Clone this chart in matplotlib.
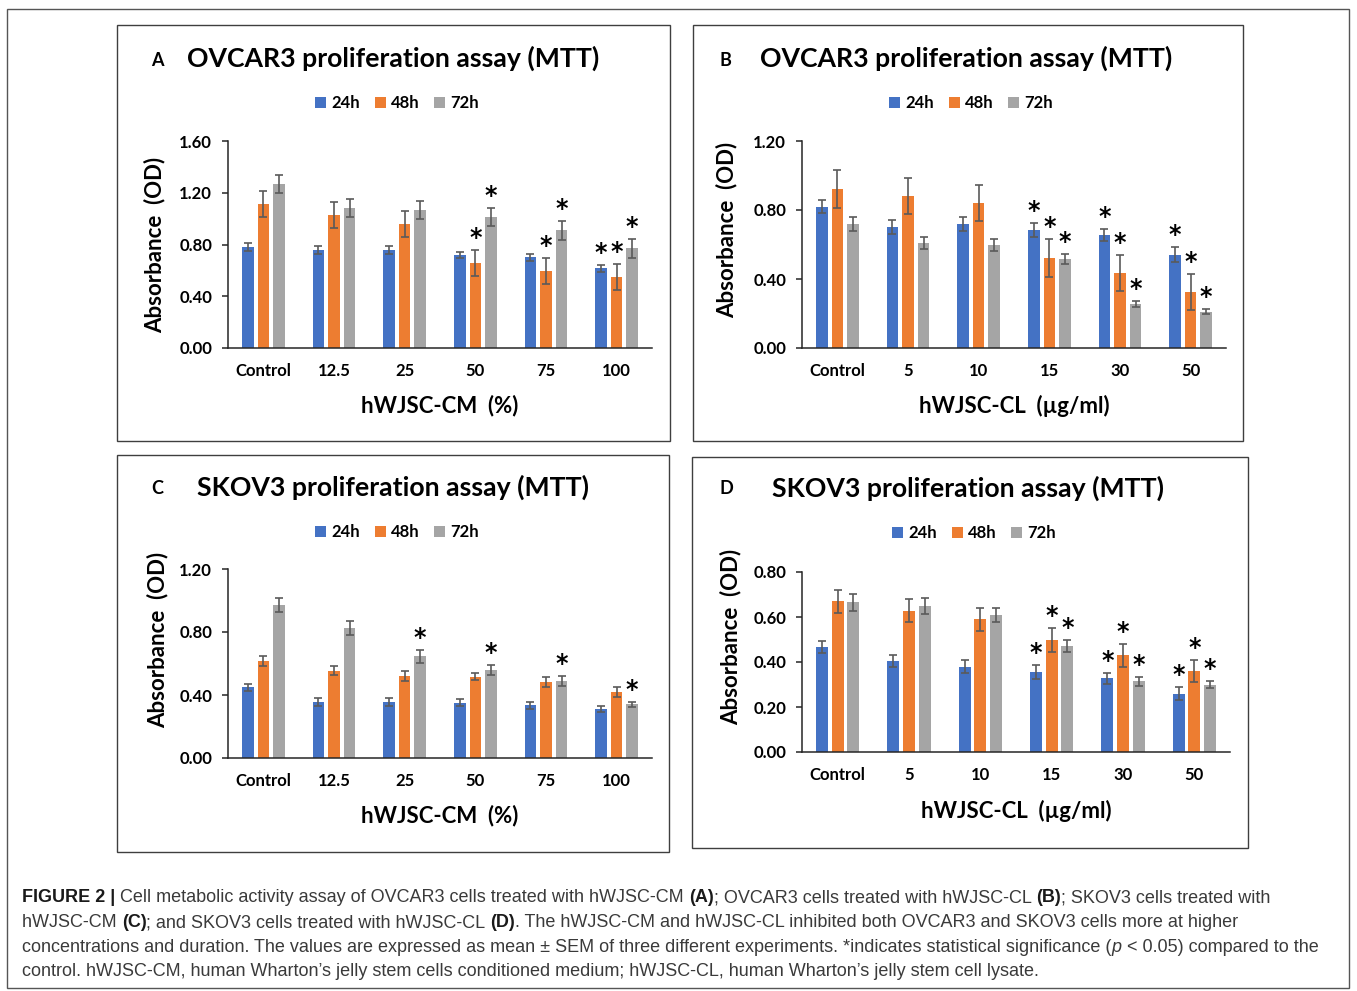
import matplotlib
matplotlib.use('Agg')
import matplotlib.pyplot as plt
from matplotlib.patches import Rectangle, Patch
import numpy as np

W, H = 1357, 991

cm_groups = ['Control', '12.5', '25', '50', '75', '100']
cl_groups = ['Control', '5', '10', '15', '30', '50']
times = ['24h', '48h', '72h']

# A: OVCAR3 + hWJSC-CM
a_mean = [[0.78, 0.76, 0.76, 0.72, 0.70, 0.615],
          [1.11, 1.025, 0.96, 0.655, 0.595, 0.55],
          [1.27, 1.08, 1.065, 1.015, 0.91, 0.77]]
a_err = [[0.03, 0.03, 0.03, 0.025, 0.025, 0.025],
         [0.10, 0.10, 0.10, 0.10, 0.10, 0.10],
         [0.07, 0.07, 0.07, 0.07, 0.075, 0.075]]
a_sig = [[0, 0, 0, 0, 0, 1],
         [0, 0, 0, 1, 1, 1],
         [0, 0, 0, 1, 1, 1]]

# B: OVCAR3 + hWJSC-CL
b_mean = [[0.82, 0.70, 0.72, 0.685, 0.655, 0.54],
          [0.92, 0.88, 0.84, 0.52, 0.435, 0.325],
          [0.72, 0.61, 0.595, 0.515, 0.255, 0.21]]
b_err = [[0.04, 0.04, 0.04, 0.04, 0.037, 0.043],
         [0.11, 0.105, 0.105, 0.11, 0.105, 0.105],
         [0.04, 0.035, 0.035, 0.028, 0.015, 0.015]]
b_sig = [[0, 0, 0, 1, 1, 1],
         [0, 0, 0, 1, 1, 1],
         [0, 0, 0, 1, 1, 1]]

# C: SKOV3 + hWJSC-CM
c_mean = [[0.45, 0.355, 0.355, 0.35, 0.335, 0.31],
          [0.615, 0.555, 0.52, 0.515, 0.485, 0.42],
          [0.97, 0.825, 0.645, 0.56, 0.49, 0.34]]
c_err = [[0.022, 0.023, 0.023, 0.023, 0.022, 0.021],
         [0.032, 0.03, 0.032, 0.022, 0.032, 0.031],
         [0.046, 0.047, 0.04, 0.032, 0.03, 0.016]]
c_sig = [[0, 0, 0, 0, 0, 0],
         [0, 0, 0, 0, 0, 0],
         [0, 0, 1, 1, 1, 1]]

# D: SKOV3 + hWJSC-CL
d_mean = [[0.465, 0.405, 0.38, 0.355, 0.327, 0.26],
          [0.67, 0.628, 0.59, 0.497, 0.43, 0.36],
          [0.665, 0.648, 0.61, 0.47, 0.315, 0.30]]
d_err = [[0.027, 0.026, 0.03, 0.03, 0.026, 0.027],
         [0.052, 0.052, 0.05, 0.053, 0.052, 0.05],
         [0.037, 0.036, 0.032, 0.027, 0.02, 0.017]]
d_sig = [[0, 0, 0, 1, 1, 1],
         [0, 0, 0, 1, 1, 1],
         [0, 0, 0, 1, 1, 1]]

colors = ['#4472C4', '#ED7D31', '#A5A5A5']
FONT = ['Lato', 'DejaVu Sans']
CAPFONT = ['Liberation Sans Narrow', 'Liberation Sans', 'DejaVu Sans']

fig = plt.figure(figsize=(W / 100, H / 100), dpi=100)
fig.patch.set_facecolor('white')


def fx(x):
    return x / W


def fy(y):
    return 1 - y / H


def box(x0, y0, x1, y1, color='#3f3f3f', lw=1.0):
    fig.add_artist(Rectangle((fx(x0), fy(y1)), fx(x1) - fx(x0), fy(y0) - fy(y1),
                             transform=fig.transFigure, fill=False,
                             edgecolor=color, linewidth=lw))


def panel(letter, title, frame, axpx, ymax, ystep, groups, means, errs, sig,
          xlabel, letter_xy, title_xy, legend_xy, ylabel_xy, xlabel_xy):
    box(*frame)
    l, t, r, b = axpx
    ax = fig.add_axes([fx(l), fy(b), fx(r) - fx(l), fy(t) - fy(b)])
    x = np.arange(len(groups))
    width = 0.165
    step = 0.22
    for i in range(3):
        xs = x + (i - 1) * step
        ax.bar(xs, means[i], width, color=colors[i], zorder=2)
        ax.errorbar(xs, means[i], yerr=errs[i], fmt='none', ecolor='#5a5a5a',
                    elinewidth=1.2, capsize=3.2, capthick=1.2, zorder=3)
        for j in range(len(groups)):
            if sig[i][j]:
                ax.annotate('*', (xs[j], means[i][j] + errs[i][j]),
                            xytext=(0, 0), textcoords='offset points',
                            ha='center', va='bottom', fontsize=17,
                            fontweight='bold', family='DejaVu Sans')
    ax.set_xlim(-0.5, len(groups) - 0.5)
    ax.set_ylim(0, ymax)
    ax.set_yticks(np.arange(0, ymax + 1e-9, ystep))
    ax.set_yticklabels(['%.2f' % v for v in np.arange(0, ymax + 1e-9, ystep)])
    ax.set_xticks(x)
    ax.set_xticklabels(groups)
    for s in ['top', 'right']:
        ax.spines[s].set_visible(False)
    ax.spines['left'].set_color('#262626')
    ax.spines['bottom'].set_color('#262626')
    ax.spines['left'].set_linewidth(1.1)
    ax.spines['bottom'].set_linewidth(1.1)
    ax.tick_params(axis='x', length=0, pad=11)
    ax.tick_params(axis='y', length=4.5, width=1.1, color='#262626', pad=7)
    for lab in ax.get_xticklabels() + ax.get_yticklabels():
        lab.set_family(FONT)
        lab.set_fontweight('bold')
        lab.set_fontsize(12)
    fig.text(fx(letter_xy[0]), fy(letter_xy[1]), letter, family=FONT,
             fontweight='bold', fontsize=13, ha='center', va='center')
    fig.text(fx(title_xy[0]), fy(title_xy[1]), title, family=FONT,
             fontweight='bold', fontsize=19.2, ha='left', va='center')
    fig.text(fx(ylabel_xy[0]), fy(ylabel_xy[1]), 'Absorbance  (OD)', family=FONT,
             fontweight='bold', fontsize=16, rotation=90, ha='center', va='center')
    fig.text(fx(xlabel_xy[0]), fy(xlabel_xy[1]), xlabel, family=FONT,
             fontweight='bold', fontsize=16, ha='center', va='center')
    handles = [Patch(facecolor=c, edgecolor='none') for c in colors]
    fig.legend(handles, times, loc='center',
               bbox_to_anchor=(fx(legend_xy[0]), fy(legend_xy[1])),
               ncol=3, frameon=False, handlelength=0.65, handleheight=0.65,
               handletextpad=0.3, columnspacing=0.9,
               prop={'family': FONT, 'weight': 'bold', 'size': 12})
    return ax


# outer frame
box(7, 9, 1349, 988, color='#555555', lw=1.0)

panel('A', 'OVCAR3 proliferation assay (MTT)', (117, 25, 670, 441),
      (228, 141, 652, 348), 1.6, 0.4, cm_groups, a_mean, a_err, a_sig,
      'hWJSC-CM  (%)', (157, 60), (187, 58), (397, 103), (155, 245), (440, 406))
panel('B', 'OVCAR3 proliferation assay (MTT)', (693, 25, 1243, 441),
      (802, 141, 1226, 348), 1.2, 0.4, cl_groups, b_mean, b_err, b_sig,
      'hWJSC-CL  (\u00b5g/ml)', (725, 61), (760, 58), (971, 103), (727, 230), (1014, 406))
panel('C', 'SKOV3 proliferation assay (MTT)', (117, 455, 669, 852),
      (228, 569, 652, 758), 1.2, 0.4, cm_groups, c_mean, c_err, c_sig,
      'hWJSC-CM  (%)', (157, 488), (197, 487), (397, 532), (158, 640), (440, 816))
panel('D', 'SKOV3 proliferation assay (MTT)', (692, 457, 1248, 848),
      (802, 572, 1230, 752), 0.8, 0.2, cl_groups, d_mean, d_err, d_sig,
      'hWJSC-CL  (\u00b5g/ml)', (726, 488), (772, 488), (974, 533), (731, 637), (1016, 811))

# caption with mixed styles
renderer = fig.canvas.get_renderer()
CAP_SIZE = 12.95


def text_width(s, **kw):
    t1 = fig.text(0, 0, '|' + s + '|', **kw)
    t2 = fig.text(0, 0, '||', **kw)
    w = t1.get_window_extent(renderer).width - t2.get_window_extent(renderer).width
    t1.remove()
    t2.remove()
    return w


def rich_line(x, y, parts):
    for s, weight, style in parts:
        kw = dict(family=CAPFONT, fontsize=CAP_SIZE, fontweight=weight,
                  fontstyle=style, color='#1a1a1a' if weight == 'bold' else '#3a3a3a')
        fig.text(fx(x), fy(y), s, ha='left', va='center', **kw)
        x += text_width(s, **kw)


N, B_, I_ = 'normal', 'bold', 'italic'
caption = [
    [('FIGURE 2 |', B_, N), (' Cell metabolic activity assay of OVCAR3 cells treated with hWJSC-CM ', N, N),
     ('(A)', B_, N), ('; OVCAR3 cells treated with hWJSC-CL ', N, N), ('(B)', B_, N),
     ('; SKOV3 cells treated with', N, N)],
    [('hWJSC-CM ', N, N), ('(C)', B_, N), ('; and SKOV3 cells treated with hWJSC-CL ', N, N),
     ('(D)', B_, N), ('. The hWJSC-CM and hWJSC-CL inhibited both OVCAR3 and SKOV3 cells more at higher', N, N)],
    [('concentrations and duration. The values are expressed as mean \u00b1 SEM of three different experiments. *indicates statistical significance (', N, N),
     ('p', N, I_), (' < 0.05) compared to the', N, N)],
    [('control. hWJSC-CM, human Wharton\u2019s jelly stem cells conditioned medium; hWJSC-CL, human Wharton\u2019s jelly stem cell lysate.', N, N)],
]
for k, line in enumerate(caption):
    rich_line(22, 898 + k * 24.5, line)

fig.savefig('out.png', dpi=100, facecolor='white')
